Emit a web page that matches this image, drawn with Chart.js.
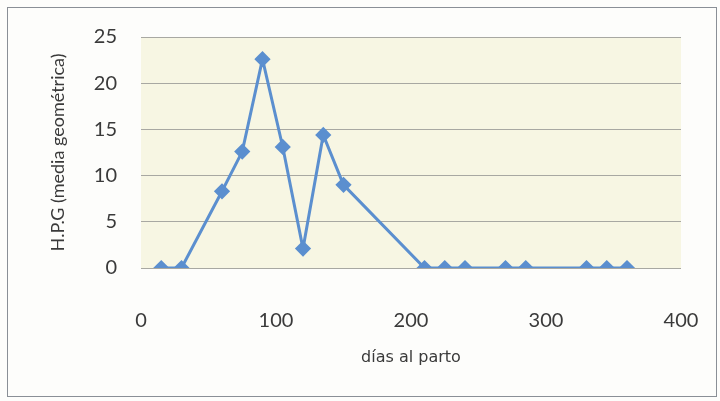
<!DOCTYPE html>
<html>
<head>
<meta charset="utf-8">
<script src="https://cdn.jsdelivr.net/npm/chart.js@4"></script>
<style>
  html, body { margin: 0; padding: 0; background: #fdfdfb; }
  #wrap { position: relative; width: 720px; height: 401px; }
  #frame {
    position: absolute; left: 7px; top: 7px; width: 710px; height: 390px;
    border: 1px solid #8a8f96; box-sizing: border-box; pointer-events: none;
  }
  canvas { position: absolute; left: 0; top: 0; }
</style>
</head>
<body>
<div id="wrap">
  <canvas id="hpgChart" width="720" height="401"></canvas>
  <div id="frame"></div>
</div>
<script>
// días al parto / H.P.G (media geométrica)
const dias = [15, 30, 60, 75, 90, 105, 120, 135, 150, 210, 225, 240, 270, 285, 330, 345, 360];
const hpg = [0, 0, 8.3, 12.6, 22.6, 13.1, 2.1, 14.4, 9.0, 0, 0, 0, 0, 0, 0, 0, 0];
const xTicks = [0, 100, 200, 300, 400];
const yTicks = [0, 5, 10, 15, 20, 25];

const puntos = dias.map((d, i) => ({ x: d, y: hpg[i] }));

// fondo del área de trazado
const plotBg = {
  id: 'plotBg',
  beforeDraw(chart) {
    const { ctx, chartArea: a } = chart;
    ctx.save();
    ctx.fillStyle = '#f7f6e3';
    ctx.fillRect(a.left, a.top, a.right - a.left, a.bottom - a.top);
    ctx.restore();
  }
};

const ctx = document.getElementById('hpgChart').getContext('2d');
new Chart(ctx, {
  type: 'scatter',
  data: {
    datasets: [{
      data: puntos,
      showLine: true,
      borderColor: '#5b8fcf',
      backgroundColor: '#5b8fcf',
      borderWidth: 3,
      pointStyle: 'rectRot',
      pointRadius: 6,
      pointHoverRadius: 6,
      tension: 0
    }]
  },
  options: {
    responsive: false,
    animation: false,
    layout: { padding: { left: 0, top: 37, right: 39, bottom: 0 } },
    plugins: { legend: { display: false }, tooltip: { enabled: false } },
    scales: {
      x: {
        type: 'linear',
        min: xTicks[0],
        max: xTicks[xTicks.length - 1],
        afterBuildTicks: s => { s.ticks = xTicks.map(v => ({ value: v })); },
        afterFit: s => {
          s.height = 133;
          s.paddingLeft = 0;
          s.paddingRight = 0;
        },
        grid: { display: false },
        border: { display: false },
        ticks: {
          padding: 33,
          color: '#3a3a3a',
          font: { family: 'Lato', size: 20 }
        },
        title: {
          display: true,
          text: 'días al parto',
          color: '#3a3a3a',
          font: { family: 'DejaVu Sans', size: 16 },
          padding: { top: 0, bottom: 34 }
        }
      },
      y: {
        min: yTicks[0],
        max: yTicks[yTicks.length - 1],
        afterBuildTicks: s => { s.ticks = yTicks.map(v => ({ value: v })); },
        afterFit: s => {
          s.width = 141;
          s.paddingTop = 0;
          s.paddingBottom = 0;
        },
        grid: { color: '#a8a8a2', lineWidth: 1, drawTicks: false },
        border: { display: false },
        ticks: {
          padding: 24,
          color: '#3a3a3a',
          font: { family: 'Lato', size: 20 }
        },
        title: {
          display: true,
          text: 'H.P.G (media geométrica)',
          color: '#3a3a3a',
          font: { family: 'Lato', size: 18 },
          padding: { top: 47, bottom: 0 }
        }
      }
    }
  },
  plugins: [plotBg]
});
</script>
</body>
</html>
